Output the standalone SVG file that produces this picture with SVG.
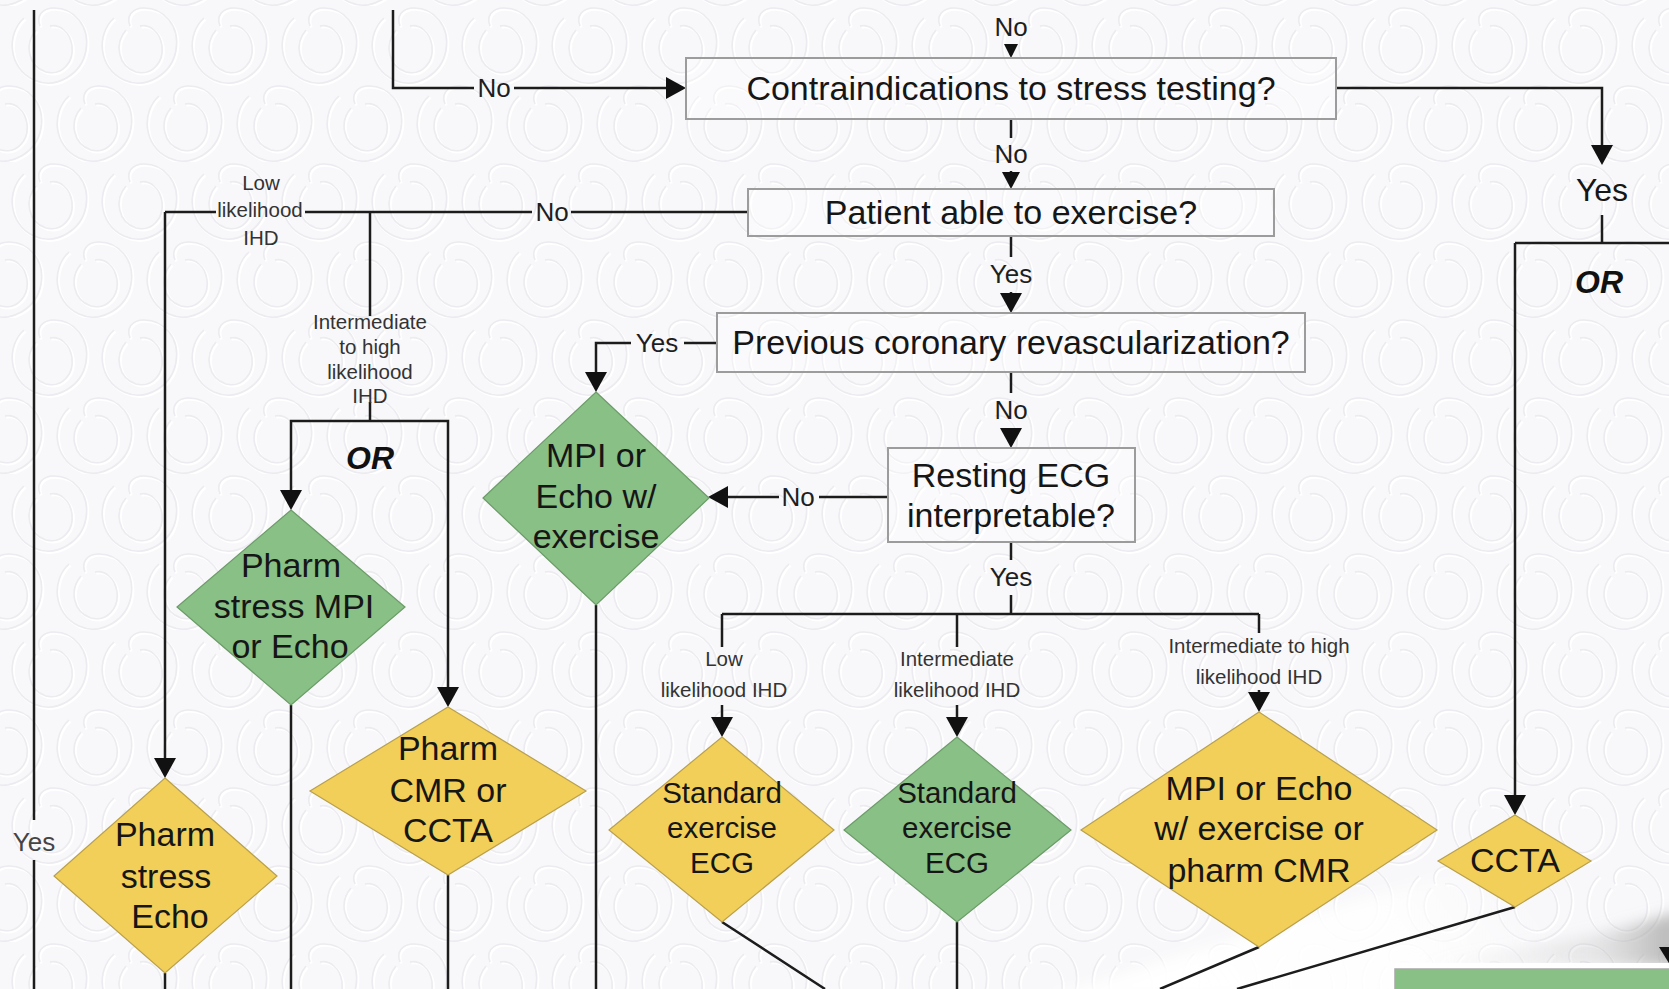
<svg xmlns="http://www.w3.org/2000/svg" xmlns:xlink="http://www.w3.org/1999/xlink" width="1669" height="989" viewBox="0 0 1669 989">
  <style>
    .txt { font-family: "Liberation Sans", Arial, sans-serif; fill: #161616; text-anchor: middle; }
    .big { font-size: 34px; }
    .mid { font-size: 29.5px; }
    .lbl { font-size: 26px; fill: #1e1e1e; }
    .sm { font-size: 20.5px; fill: #333333; }
    .or { font-size: 32px; font-weight: bold; font-style: italic; fill: #111111; }
    .box { fill: #ffffff; fill-opacity: 0.35; stroke: #9c9c9c; stroke-width: 2; }
    .yel { fill: #f2cf58; stroke: #b9a04e; stroke-width: 1.2; }
    .grn { fill: #88c085; stroke: #6c9b69; stroke-width: 1.2; }
    .ln { fill: none; stroke: #1c1c1c; stroke-width: 2.5; }
    .arr { marker-end: url(#head); }
    .arrM { marker-end: url(#headM); }
    .arrS { marker-end: url(#headS); }
  </style>
  <defs>
    <marker id="head" markerUnits="userSpaceOnUse" markerWidth="20" markerHeight="22" viewBox="0 0 20 22" refX="17" refY="11" orient="auto">
      <path d="M0,0 L20,11 L0,22 Z" fill="#111111"/>
    </marker>
    <marker id="headM" markerUnits="userSpaceOnUse" markerWidth="17" markerHeight="18" viewBox="0 0 17 18" refX="14" refY="9" orient="auto">
      <path d="M0,0 L17,9 L0,18 Z" fill="#111111"/>
    </marker>
    <marker id="headS" markerUnits="userSpaceOnUse" markerWidth="14" markerHeight="14" viewBox="0 0 14 14" refX="11" refY="7" orient="auto">
      <path d="M0,0 L14,7 L0,14 Z" fill="#111111"/>
    </marker>
    <!-- embossed background motif -->
    <path id="mOuter" d="M16 12 C-2 28 0 62 26 74 C48 84 74 68 78 44 C82 20 66 2 46 2 C34 2 28 10 32 20"/>
    <path id="mInner" d="M28 24 C16 38 20 60 38 66 C54 70 66 56 64 40 C62 26 52 18 42 20"/>
    <g id="motif" fill="none">
      <use href="#mOuter" stroke="#ffffff" stroke-width="2.4" transform="translate(1.5,1.5)"/>
      <use href="#mInner" stroke="#ffffff" stroke-width="2.4" transform="translate(1.5,1.5)"/>
      <use href="#mOuter" stroke="#ebebf0" stroke-width="1.6"/>
      <use href="#mInner" stroke="#ebebf0" stroke-width="1.6"/>
    </g>
    <pattern id="bgMotif" width="90" height="156" patternUnits="userSpaceOnUse" x="8" y="6">
      <use href="#motif"/>
      <use href="#motif" x="45" y="78"/>
      <use href="#motif" x="-45" y="78"/>
    </pattern>
    <linearGradient id="curlGlow" gradientUnits="userSpaceOnUse" x1="1200" y1="989" x2="1460" y2="800">
      <stop offset="0" stop-color="#ffffff" stop-opacity="0.95"/>
      <stop offset="0.6" stop-color="#ffffff" stop-opacity="0.85"/>
      <stop offset="1" stop-color="#ffffff" stop-opacity="0"/>
    </linearGradient>
    <linearGradient id="curlShade" gradientUnits="userSpaceOnUse" x1="1420" y1="0" x2="1669" y2="0">
      <stop offset="0" stop-color="#c4c4c4" stop-opacity="0"/>
      <stop offset="0.7" stop-color="#bdbdbd" stop-opacity="0.3"/>
      <stop offset="1" stop-color="#a6a6a6" stop-opacity="0.75"/>
    </linearGradient>
    <filter id="soft" x="-10%" y="-30%" width="120%" height="160%">
      <feGaussianBlur stdDeviation="7"/>
    </filter>
  </defs>

  <!-- page background -->
  <rect x="0" y="0" width="1669" height="989" fill="#f8f8fa"/>
  <rect x="0" y="0" width="1669" height="989" fill="url(#bgMotif)"/>

  <!-- curled lower-right corner of the page -->
  <g id="page-curl">
    <path d="M1040 1000 C1250 935 1450 862 1680 825 L1680 1000 Z" fill="url(#curlGlow)" filter="url(#soft)"/>
    <path d="M1400 966 C1500 955 1600 935 1680 912 L1680 966 Z" fill="url(#curlShade)" filter="url(#soft)"/>
  </g>

  <!-- connectors -->
  <g id="connectors" class="ln">
    <!-- far-left Yes line -->
    <path d="M34 10 V820 M34 860 V989"/>
    <!-- into Contraindications -->
    <path d="M393 10 V88 H474"/>
    <path class="arr" d="M514 88 H683"/>
    <path class="arrS" d="M1011 44 V55"/>
    <!-- Contraindications: Yes branch -->
    <path class="arr" d="M1336 88 H1602 V162"/>
    <path d="M1602 215 V243 M1515 243 H1669"/>
    <path class="arr" d="M1515 243 V812"/>
    <!-- Contraindications: No -> Patient able -->
    <path d="M1011 119 V138"/>
    <path class="arrM" d="M1011 171 V186"/>
    <!-- Patient able: No branch -->
    <path d="M748 212 H571 M532 212 H305 M216 212 H165"/>
    <path class="arr" d="M165 212 V775"/>
    <path d="M370 212 V316 M370 402 V421"/>
    <path class="arr" d="M370 421 H291 V507"/>
    <path class="arr" d="M370 421 H448 V704"/>
    <!-- Patient able: Yes -> Previous revascularization -->
    <path d="M1011 236 V257"/>
    <path class="arr" d="M1011 292 V310"/>
    <!-- Previous revascularization: Yes -->
    <path d="M717 343 H684"/>
    <path class="arr" d="M631 343 H596 V389"/>
    <!-- Previous revascularization: No -->
    <path d="M1011 372 V393"/>
    <path class="arr" d="M1011 428 V445"/>
    <!-- Resting ECG: No -->
    <path d="M888 497 H819"/>
    <path class="arr" d="M779 497 H711"/>
    <!-- Resting ECG: Yes -->
    <path d="M1011 542 V560 M1011 595 V614 M722 614 H1259 M722 614 V647 M957 614 V647 M1259 614 V633"/>
    <path class="arr" d="M722 705 V734"/>
    <path class="arr" d="M957 705 V734"/>
    <path class="arr" d="M1259 690 V709"/>
    <!-- outgoing lines at the bottom -->
    <path d="M165 973 V989 M291 705 V989 M448 875 V989 M596 605 V989 M722 922 L825 989 M957 922 V989 M1259 947 L1160 989 M1515 907 L1237 989"/>
  </g>

  <!-- connector labels -->
  <g id="connector-labels" class="txt">
    <text class="lbl" x="34" y="851" style="fill:#444444">Yes</text>
    <text class="lbl" x="494" y="97">No</text>
    <text class="lbl" x="1011" y="36">No</text>
    <text class="txt" x="1602" y="201" style="font-size:32px">Yes</text>
    <text class="or" x="1599" y="293">OR</text>
    <text class="lbl" x="1011" y="163">No</text>
    <text class="lbl" x="552" y="221">No</text>
    <text class="sm" x="261" y="190">Low</text>
    <text class="sm" x="260" y="217">likelihood</text>
    <text class="sm" x="261" y="245">IHD</text>
    <text class="sm" x="370" y="329">Intermediate</text>
    <text class="sm" x="370" y="354">to high</text>
    <text class="sm" x="370" y="379">likelihood</text>
    <text class="sm" x="370" y="403">IHD</text>
    <text class="or" x="370" y="469">OR</text>
    <text class="lbl" x="1011" y="283">Yes</text>
    <text class="lbl" x="657" y="352">Yes</text>
    <text class="lbl" x="1011" y="419">No</text>
    <text class="lbl" x="798" y="506">No</text>
    <text class="lbl" x="1011" y="586">Yes</text>
    <text class="sm" x="724" y="666">Low</text>
    <text class="sm" x="724" y="697">likelihood IHD</text>
    <text class="sm" x="957" y="666">Intermediate</text>
    <text class="sm" x="957" y="697">likelihood IHD</text>
    <text class="sm" x="1259" y="653">Intermediate to high</text>
    <text class="sm" x="1259" y="684">likelihood IHD</text>
  </g>

  <!-- decision boxes -->
  <g id="contraindications">
    <rect class="box" x="686" y="58" width="650" height="61"/>
    <text class="txt big" x="1011" y="100">Contraindications to stress testing?</text>
  </g>
  <g id="able-to-exercise">
    <rect class="box" x="748" y="189" width="526" height="47"/>
    <text class="txt big" x="1011" y="224">Patient able to exercise?</text>
  </g>
  <g id="previous-revascularization">
    <rect class="box" x="717" y="313" width="588" height="59"/>
    <text class="txt big" x="1011" y="354">Previous coronary revascularization?</text>
  </g>
  <g id="resting-ecg">
    <rect class="box" x="888" y="448" width="247" height="94"/>
    <text class="txt big" x="1011" y="487">Resting ECG</text>
    <text class="txt big" x="1011" y="527">interpretable?</text>
  </g>

  <!-- test options -->
  <g id="pharm-stress-echo">
    <polygon class="yel" points="165,778 277,876 165,973 54,876"/>
    <text class="txt big" x="165" y="846">Pharm</text>
    <text class="txt big" x="166" y="888">stress</text>
    <text class="txt big" x="170" y="928">Echo</text>
  </g>
  <g id="pharm-stress-mpi">
    <polygon class="grn" points="291,510 405,607 291,705 177,607"/>
    <text class="txt big" x="291" y="577">Pharm</text>
    <text class="txt big" x="294" y="618">stress MPI</text>
    <text class="txt big" x="290" y="658">or Echo</text>
  </g>
  <g id="pharm-cmr-ccta">
    <polygon class="yel" points="448,707 586,791 448,875 310,791"/>
    <text class="txt big" x="448" y="760">Pharm</text>
    <text class="txt big" x="448" y="802">CMR or</text>
    <text class="txt big" x="448" y="842">CCTA</text>
  </g>
  <g id="mpi-echo-exercise">
    <polygon class="grn" points="596,392 709,498 596,605 483,498"/>
    <text class="txt big" x="596" y="467">MPI or</text>
    <text class="txt big" x="596" y="508">Echo w/</text>
    <text class="txt big" x="596" y="548">exercise</text>
  </g>
  <g id="standard-ecg-low">
    <polygon class="yel" points="722,737 834,830 722,922 609,830"/>
    <text class="txt mid" x="722" y="803">Standard</text>
    <text class="txt mid" x="722" y="838">exercise</text>
    <text class="txt mid" x="722" y="873">ECG</text>
  </g>
  <g id="standard-ecg-intermediate">
    <polygon class="grn" points="957,737 1071,830 957,922 844,830"/>
    <text class="txt mid" x="957" y="803">Standard</text>
    <text class="txt mid" x="957" y="838">exercise</text>
    <text class="txt mid" x="957" y="873">ECG</text>
  </g>
  <g id="mpi-echo-cmr">
    <polygon class="yel" points="1259,712 1437,830 1259,947 1081,830"/>
    <text class="txt big" x="1259" y="800">MPI or Echo</text>
    <text class="txt big" x="1259" y="840">w/ exercise or</text>
    <text class="txt big" x="1259" y="882">pharm CMR</text>
  </g>
  <g id="ccta">
    <polygon class="yel" points="1515,815 1591,861 1515,907 1438,861"/>
    <text class="txt big" x="1515" y="872">CCTA</text>
  </g>

  <!-- next page peeking under the curl -->
  <g id="next-page">
    <rect x="1395" y="963" width="280" height="6" fill="#ffffff"/>
    <rect x="1395" y="969" width="280" height="26" fill="#88c085" stroke="#a8a8a8" stroke-width="1.5"/>
    <polygon points="1659,947 1685,947 1672,968" fill="#111111"/>
  </g>
</svg>
